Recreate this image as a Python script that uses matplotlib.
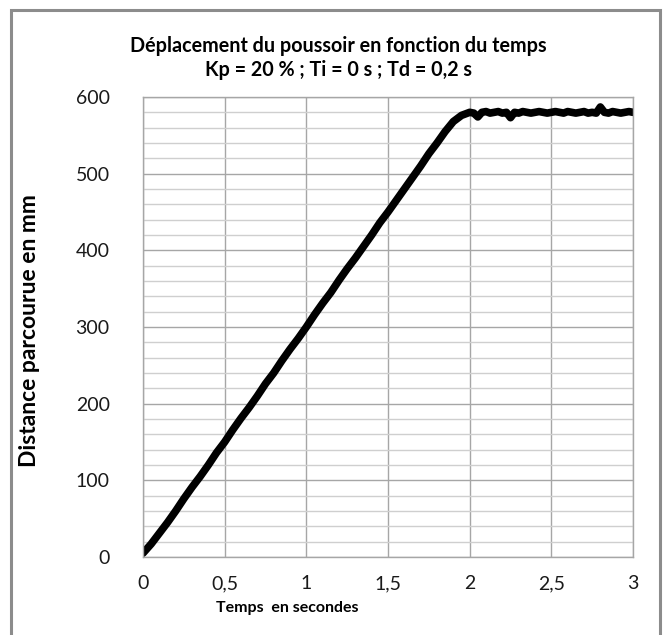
import matplotlib
matplotlib.use("Agg")
import matplotlib.pyplot as plt
from matplotlib.patches import Rectangle
from matplotlib.ticker import MultipleLocator, FuncFormatter

# --- data ---
t_ramp = [0.0, 0.05, 0.1, 0.15, 0.2, 0.25, 0.3, 0.35, 0.4, 0.45, 0.5, 0.55, 0.6, 0.65,
          0.7, 0.75, 0.8, 0.85, 0.9, 0.95, 1.0, 1.05, 1.1, 1.15, 1.2, 1.25, 1.3, 1.35,
          1.4, 1.45, 1.5, 1.55, 1.6, 1.65, 1.7, 1.75, 1.8, 1.85, 1.9, 1.95]
d_ramp = [5, 17, 31, 45, 60, 76, 91, 105, 120, 136, 150, 166, 181, 195, 210, 226, 240,
          256, 271, 285, 300, 316, 331, 345, 361, 376, 390, 405, 420, 436, 450, 465,
          480, 495, 510, 526, 540, 555, 568, 576]
t_plat = [1.975, 2.0, 2.025, 2.05, 2.075, 2.1, 2.125, 2.15, 2.175, 2.2, 2.225, 2.25,
          2.275, 2.3, 2.325, 2.35, 2.375, 2.4, 2.425, 2.45, 2.475, 2.5, 2.525, 2.55,
          2.575, 2.6, 2.625, 2.65, 2.675, 2.7, 2.725, 2.75, 2.775, 2.8, 2.825, 2.85,
          2.875, 2.9, 2.925, 2.95, 2.975, 3.0]
d_plat = [578, 580, 579, 574, 580, 581, 579, 580, 581, 579, 580, 573, 580, 579, 581,
          580, 579, 580, 581, 580, 579, 580, 581, 580, 579, 581, 580, 579, 580, 581,
          579, 580, 579, 587, 580, 579, 581, 580, 579, 580, 581, 580]

t = t_ramp + t_plat
d = d_ramp + d_plat

title = "Déplacement du poussoir en fonction du temps\nKp = 20 % ; Ti = 0 s ; Td = 0,2 s"
xlabel = "Temps  en secondes"
ylabel = "Distance parcourue en mm"

plt.rcParams['font.family'] = ['Lato', 'DejaVu Sans']

W, H = 669, 635
fig = plt.figure(figsize=(W/100, H/100), dpi=100)
fig.patch.set_facecolor('white')
fig.add_artist(Rectangle((11/W, -0.05), (660-11)/W, 1.05 - 10/H, transform=fig.transFigure,
                         fill=False, edgecolor='#8c8c8c', linewidth=2.2))

ax = fig.add_axes([143/W, 1-557/H, (633-143)/W, (557-97)/H])
ax.set_xlim(0, 3)
ax.set_ylim(0, 600)
ax.xaxis.set_major_locator(MultipleLocator(0.5))
ax.yaxis.set_major_locator(MultipleLocator(100))
ax.yaxis.set_minor_locator(MultipleLocator(20))
fmt = FuncFormatter(lambda v, p: ('%g' % v).replace('.', ','))
ax.xaxis.set_major_formatter(fmt)
ax.yaxis.set_major_formatter(fmt)
ax.grid(True, which='major', color='#a6a6a6', linewidth=1.0)
ax.yaxis.grid(True, which='minor', color='#cfcfcf', linewidth=1.0)
ax.set_axisbelow(True)
for s in ax.spines.values():
    s.set_color('#a6a6a6')
    s.set_linewidth(1.0)
ax.tick_params(which='both', length=0)
ax.tick_params(axis='y', labelsize=14, pad=24, colors='#1a1a1a')
ax.tick_params(axis='x', labelsize=14, pad=13, colors='#1a1a1a')

ax.plot(t, d, color='black', linewidth=5.5, solid_capstyle='round', solid_joinstyle='round')

fig.text(338/W, 1-58/H, title, ha='center', va='center', fontsize=14.2,
         fontweight='bold', linespacing=1.3)
fig.text(30/W, 1-331/H, ylabel, rotation=90, ha='center', va='center', fontsize=16.5,
         fontweight='bold')
fig.text(287/W, 1-608/H, xlabel, ha='center', va='center', fontsize=11.5,
         fontweight='bold')

fig.savefig('out.png', dpi=100)
